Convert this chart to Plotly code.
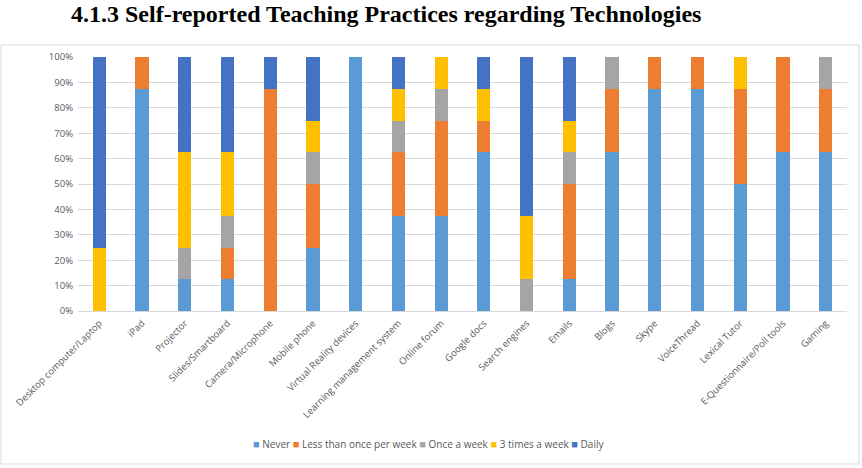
import plotly.graph_objects as go

categories = ["Desktop computer/Laptop", "iPad", "Projector", "Slides/Smartboard",
              "Camera/Microphone", "Mobile phone", "Virtual Reality devices",
              "Learning management system", "Online forum", "Google docs",
              "Search engines", "Emails", "Blogs", "Skype", "VoiceThread",
              "Lexical Tutor", "E-Questionnaire/Poll tools", "Gaming"]

never       = [0, 87.5, 12.5, 12.5, 0, 25, 100, 37.5, 37.5, 62.5, 0, 12.5, 62.5, 87.5, 87.5, 50, 62.5, 62.5]
less_once   = [0, 12.5, 0, 12.5, 87.5, 25, 0, 25, 37.5, 12.5, 0, 37.5, 25, 12.5, 12.5, 37.5, 37.5, 25]
once_week   = [0, 0, 12.5, 12.5, 0, 12.5, 0, 12.5, 12.5, 0, 12.5, 12.5, 12.5, 0, 0, 0, 0, 12.5]
three_times = [25, 0, 37.5, 25, 0, 12.5, 0, 12.5, 12.5, 12.5, 25, 12.5, 0, 0, 0, 12.5, 0, 0]
daily       = [75, 0, 37.5, 37.5, 12.5, 25, 0, 12.5, 0, 12.5, 62.5, 25, 0, 0, 0, 0, 0, 0]

series = [("Never", never, "#5B9BD5"),
          ("Less than once per week", less_once, "#ED7D31"),
          ("Once a week", once_week, "#A5A5A5"),
          ("3 times a week", three_times, "#FFC000"),
          ("Daily", daily, "#4472C4")]

fig = go.Figure()
for name, vals, col in series:
    fig.add_trace(go.Bar(x=categories, y=[v / 100 for v in vals], name=name,
                         marker=dict(color=col, line=dict(width=0)), showlegend=False))

W, H = 862, 468
L, R, T, B = 78, 15, 57, 157
pw, ph = W - L - R, H - T - B

def px(x):
    return (x - L) / pw

def py(y):
    return (H - B - y) / ph

legend_html = " ".join(
    f"<span style='color:{col}; font-size:11px'>■</span> {name}" for name, _, col in series
)

fig.update_layout(
    width=W, height=H,
    margin=dict(l=L, r=R, t=T, b=B, autoexpand=False),
    barmode="stack", bargap=0.69,
    plot_bgcolor="white", paper_bgcolor="white",
    font=dict(family="Open Sans", size=10, color="#595959"),
    showlegend=False,
    xaxis=dict(tickangle=-45, showgrid=False, showline=True, linecolor="#d9d9d9",
               ticks="", tickfont=dict(size=9.5, color="#595959"), fixedrange=True,
               ticklabelstandoff=2),
    yaxis=dict(range=[0, 1], tickformat=".0%", dtick=0.1, showgrid=True,
               gridcolor="#d9d9d9", zeroline=False, ticks="", showline=False,
               tickfont=dict(size=9.5, color="#595959"), fixedrange=True,
               ticklabelstandoff=4),
    shapes=[dict(type="rect", xref="paper", yref="paper",
                 x0=px(1), x1=px(859), y0=py(464), y1=py(45),
                 line=dict(color="#d9d9d9", width=1), fillcolor="rgba(0,0,0,0)", layer="below")],
    annotations=[
        dict(text="<b>4.1.3 Self-reported Teaching Practices regarding Technologies</b>",
             xref="paper", yref="paper", x=px(69), y=py(14),
             xanchor="left", yanchor="middle", showarrow=False,
             font=dict(family="Liberation Serif", size=24, color="black")),
        dict(text=legend_html, xref="paper", yref="paper", x=px(428), y=py(443),
             xanchor="center", yanchor="middle", showarrow=False,
             font=dict(family="Open Sans", size=10, color="#595959")),
    ],
)

fig.write_html("out.html")
